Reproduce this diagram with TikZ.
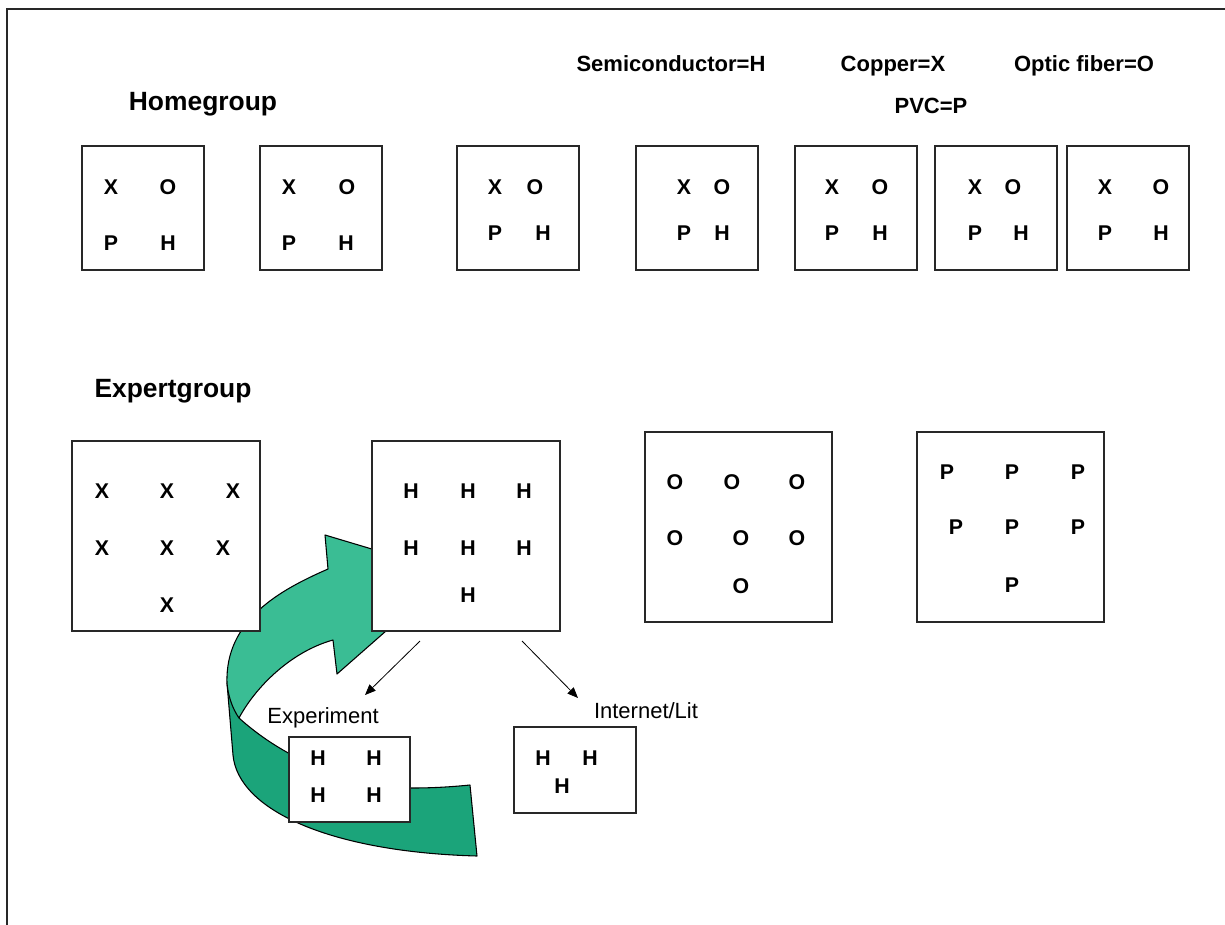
\documentclass[tikz,border=0pt]{standalone}
\usepackage{fontspec}
\setmainfont{Liberation Sans}
\usetikzlibrary{arrows.meta,fit}
\definecolor{gLight}{RGB}{58,189,148}
\definecolor{gDark}{RGB}{27,164,122}
\definecolor{edgecol}{RGB}{40,40,40}
\begin{document}
\begin{tikzpicture}[x=0.75pt,y=-0.75pt,
 box/.style={draw=edgecol, line width=1pt, fill=white, inner sep=0pt},
 lt/.style={font=\fontsize{16}{18}\selectfont\bfseries, inner sep=0pt},
 hdr/.style={font=\fontsize{16.5}{19}\selectfont\bfseries, inner sep=0pt, anchor=base},
 ttl/.style={font=\fontsize{19.8}{22}\selectfont\bfseries, inner sep=0pt, anchor=base},
 lbl/.style={font=\fontsize{16.5}{19}\selectfont, inner sep=0pt, anchor=base},
 ribbon/.style={draw=black, line width=0.8pt, line join=round},
 conn/.style={draw=black, line width=0.6pt, -{Triangle[length=8pt,width=6.5pt]}},
 framel/.style={draw=edgecol, line width=1.5pt}]
\useasboundingbox (0,0) rectangle (1225,925);
% frame
\coordinate (fbl) at (7,925);
\coordinate (ftl) at (7,9);
\coordinate (ftr) at (1225,9);
\draw[framel] (fbl) -- (ftl) -- (ftr);

% green ribbon arrow (behind boxes)
\fill[gDark] (227,683) -- (233,755) .. controls (238,810) and (330,852) .. (477,856)
  -- (470,785) .. controls (440,788) and (420,788) .. (410,788)
  .. controls (340,784) and (280,755) .. (239,718)
  .. controls (232,708) and (228,695) .. (227,683) -- cycle;
\draw[ribbon] (227,683) -- (233,755) .. controls (238,810) and (330,852) .. (477,856)
  -- (470,785) .. controls (440,788) and (420,788) .. (410,788)
  .. controls (340,784) and (280,755) .. (239,718);
\filldraw[ribbon, fill=gLight] (328,569) -- (325,535) -- (452,573) -- (337,674) -- (333,640)
  .. controls (290,652) and (255,688) .. (239,718)
  .. controls (232,708) and (228,695) .. (227,683)
  .. controls (225,620) and (280,590) .. (328,569) -- cycle;

% titles and legend
\node[ttl] (thome) at (203,110) {Homegroup};
\node[ttl] (texp) at (173,397) {Expertgroup};
\node[hdr] (lsemi) at (671,71) {Semiconductor=H};
\node[hdr] (lcop) at (893,71) {Copper=X};
\node[hdr] (lopt) at (1084,71) {Optic fiber=O};
\node[hdr] (lpvc) at (931,113) {PVC=P};

% homegroup boxes
\node[box, fit={(82,146) (204,270)}] (h1) {};
\node[box, fit={(260,146) (382,270)}] (h2) {};
\node[box, fit={(457,146) (579,270)}] (h3) {};
\node[box, fit={(636,146) (758,270)}] (h4) {};
\node[box, fit={(795,146) (917,270)}] (h5) {};
\node[box, fit={(935,146) (1057,270)}] (h6) {};
\node[box, fit={(1067,146) (1189,270)}] (h7) {};

\node[lt] (h1x) at (111,187) {X}; \node[lt] (h1o) at (168,187) {O};
\node[lt] (h1p) at (111,243) {P}; \node[lt] (h1h) at (168,243) {H};
\node[lt] (h2x) at (289,187) {X}; \node[lt] (h2o) at (347,187) {O};
\node[lt] (h2p) at (289,243) {P}; \node[lt] (h2h) at (346,243) {H};
\node[lt] (h3x) at (495,187) {X}; \node[lt] (h3o) at (535,187) {O};
\node[lt] (h3p) at (495,233) {P}; \node[lt] (h3h) at (543,233) {H};
\node[lt] (h4x) at (684,187) {X}; \node[lt] (h4o) at (722,187) {O};
\node[lt] (h4p) at (684,233) {P}; \node[lt] (h4h) at (722,233) {H};
\node[lt] (h5x) at (832,187) {X}; \node[lt] (h5o) at (880,187) {O};
\node[lt] (h5p) at (832,233) {P}; \node[lt] (h5h) at (880,233) {H};
\node[lt] (h6x) at (975,187) {X}; \node[lt] (h6o) at (1013,187) {O};
\node[lt] (h6p) at (975,233) {P}; \node[lt] (h6h) at (1021,233) {H};
\node[lt] (h7x) at (1105,187) {X}; \node[lt] (h7o) at (1161,187) {O};
\node[lt] (h7p) at (1105,233) {P}; \node[lt] (h7h) at (1161,233) {H};

% expert boxes
\node[box, fit={(72,441) (260,631)}] (ex) {};
\node[box, fit={(372,441) (560,631)}] (eh) {};
\node[box, fit={(645,432) (832,622)}] (eo) {};
\node[box, fit={(917,432) (1104,622)}] (ep) {};

\node[lt] (ex1) at (102,491) {X}; \node[lt] (ex2) at (167,491) {X}; \node[lt] (ex3) at (233,491) {X};
\node[lt] (ex4) at (102,548) {X}; \node[lt] (ex5) at (167,548) {X}; \node[lt] (ex6) at (223,548) {X};
\node[lt] (ex7) at (167,605) {X};

\node[lt] (eh1) at (411,491) {H}; \node[lt] (eh2) at (468,491) {H}; \node[lt] (eh3) at (524,491) {H};
\node[lt] (eh4) at (411,548) {H}; \node[lt] (eh5) at (468,548) {H}; \node[lt] (eh6) at (524,548) {H};
\node[lt] (eh7) at (468,595) {H};

\node[lt] (eo1) at (675,482) {O}; \node[lt] (eo2) at (732,482) {O}; \node[lt] (eo3) at (797,482) {O};
\node[lt] (eo4) at (675,538) {O}; \node[lt] (eo5) at (741,538) {O}; \node[lt] (eo6) at (797,538) {O};
\node[lt] (eo7) at (741,586) {O};

\node[lt] (ep1) at (947,472) {P}; \node[lt] (ep2) at (1012,472) {P}; \node[lt] (ep3) at (1078,472) {P};
\node[lt] (ep4) at (956,527) {P}; \node[lt] (ep5) at (1012,527) {P}; \node[lt] (ep6) at (1078,527) {P};
\node[lt] (ep7) at (1012,585) {P};

% sub boxes
\node[box, fit={(289,737) (410,822)}] (bexp) {};
\node[box, fit={(514,727) (636,813)}] (bint) {};
\node[lt] (be1) at (318,758) {H}; \node[lt] (be2) at (374,758) {H};
\node[lt] (be3) at (318,795) {H}; \node[lt] (be4) at (374,795) {H};
\node[lt] (bi1) at (543,758) {H}; \node[lt] (bi2) at (590,758) {H};
\node[lt] (bi3) at (562,786) {H};

\node[lbl] (lexp) at (323,723.5) {Experiment};
\node[lbl] (lint) at (646,718) {Internet/Lit};

% connectors
\coordinate (a1s) at (420,641);
\coordinate (a1e) at (365,695);
\coordinate (a2s) at (522,641);
\coordinate (a2e) at (578,698);
\draw[conn] (a1s) -- (a1e);
\draw[conn] (a2s) -- (a2e);
\end{tikzpicture}
\end{document}
